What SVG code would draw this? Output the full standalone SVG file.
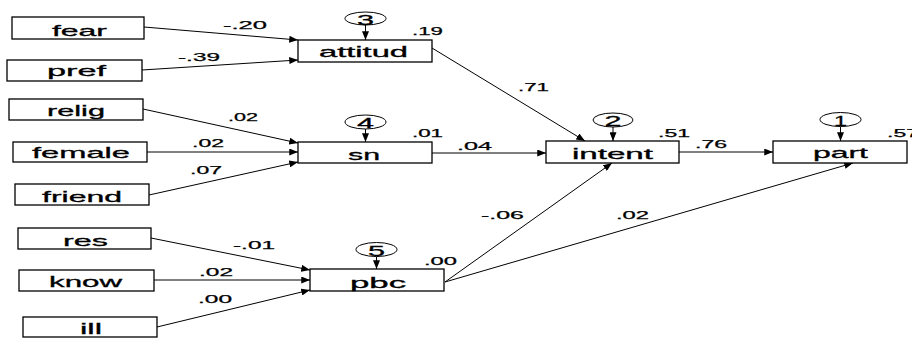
<svg xmlns="http://www.w3.org/2000/svg" width="912" height="338" viewBox="0 0 912 338">
<defs>
<marker id="ah" viewBox="0 0 10 8" refX="10" refY="4" markerUnits="userSpaceOnUse" markerWidth="9" markerHeight="7" orient="auto">
<path d="M0,0 L10,4 L0,8 z" fill="#000"/>
</marker>
</defs>
<style>
.box{fill:#fff;stroke:#000;stroke-width:1.3}
.err{fill:#fff;stroke:#000;stroke-width:1}
.lbl{font-family:"Liberation Sans",Arial,sans-serif;font-size:15px;fill:#000;stroke:#000;stroke-width:0.3}
.num{font-family:"Liberation Sans",Arial,sans-serif;font-size:11px;fill:#000;stroke:#000;stroke-width:0.25}
.dig{font-family:"Liberation Sans",Arial,sans-serif;font-size:15px;fill:#000;stroke:#000;stroke-width:0.3}
.ln{stroke:#000;stroke-width:1;fill:none;marker-end:url(#ah)}
</style>
<rect width="912" height="338" fill="#fff"/>
<g id="connectors">
<line class="ln" x1="144" y1="27" x2="298" y2="40"/>
<line class="ln" x1="142" y1="70" x2="298" y2="60"/>
<line class="ln" x1="143" y1="109" x2="298" y2="143"/>
<line class="ln" x1="147" y1="152" x2="298" y2="152"/>
<line class="ln" x1="149" y1="195" x2="298" y2="162"/>
<line class="ln" x1="151" y1="238" x2="310" y2="270"/>
<line class="ln" x1="154" y1="280" x2="310" y2="280"/>
<line class="ln" x1="157" y1="327" x2="310" y2="290"/>
<line class="ln" x1="432" y1="48" x2="585" y2="141"/>
<line class="ln" x1="432" y1="153" x2="546" y2="153"/>
<line class="ln" x1="679" y1="152" x2="773" y2="152"/>
<line class="ln" x1="445" y1="282" x2="612" y2="163"/>
<line class="ln" x1="445" y1="282" x2="853" y2="163"/>
<line class="ln" x1="365.5" y1="25" x2="365.5" y2="40"/>
<line class="ln" x1="365.5" y1="129" x2="365.5" y2="142"/>
<line class="ln" x1="613" y1="127" x2="613" y2="141"/>
<line class="ln" x1="840.5" y1="127" x2="840.5" y2="141"/>
<line class="ln" x1="376.5" y1="257" x2="376.5" y2="269"/>
<text class="num" x="223" y="29" textLength="44" lengthAdjust="spacingAndGlyphs">-.20</text>
<text class="num" x="178" y="61" textLength="42" lengthAdjust="spacingAndGlyphs">-.39</text>
<text class="num" x="228" y="121" textLength="30" lengthAdjust="spacingAndGlyphs">.02</text>
<text class="num" x="192" y="147" textLength="32" lengthAdjust="spacingAndGlyphs">.02</text>
<text class="num" x="190" y="174" textLength="32" lengthAdjust="spacingAndGlyphs">.07</text>
<text class="num" x="233" y="249" textLength="42" lengthAdjust="spacingAndGlyphs">-.01</text>
<text class="num" x="199" y="276" textLength="34" lengthAdjust="spacingAndGlyphs">.02</text>
<text class="num" x="198" y="303" textLength="34" lengthAdjust="spacingAndGlyphs">.00</text>
<text class="num" x="518" y="91" textLength="31" lengthAdjust="spacingAndGlyphs">.71</text>
<text class="num" x="457" y="150" textLength="35" lengthAdjust="spacingAndGlyphs">.04</text>
<text class="num" x="695" y="148" textLength="32" lengthAdjust="spacingAndGlyphs">.76</text>
<text class="num" x="481" y="219" textLength="43" lengthAdjust="spacingAndGlyphs">-.06</text>
<text class="num" x="616" y="219" textLength="33" lengthAdjust="spacingAndGlyphs">.02</text>
</g>
<g id="fear"><rect class="box" x="12" y="17" width="132" height="22"/><text class="lbl" x="52" y="36" textLength="55" lengthAdjust="spacingAndGlyphs">fear</text></g>
<g id="pref"><rect class="box" x="7" y="60" width="135" height="21"/><text class="lbl" x="47" y="76" textLength="59" lengthAdjust="spacingAndGlyphs">pref</text></g>
<g id="relig"><rect class="box" x="9" y="99" width="134" height="21"/><text class="lbl" x="47" y="116" textLength="58" lengthAdjust="spacingAndGlyphs">relig</text></g>
<g id="female"><rect class="box" x="13" y="142" width="134" height="20"/><text class="lbl" x="32" y="158" textLength="98" lengthAdjust="spacingAndGlyphs">female</text></g>
<g id="friend"><rect class="box" x="15" y="184" width="134" height="21"/><text class="lbl" x="42" y="202" textLength="80" lengthAdjust="spacingAndGlyphs">friend</text></g>
<g id="res"><rect class="box" x="18" y="228" width="133" height="21"/><text class="lbl" x="63" y="246" textLength="45" lengthAdjust="spacingAndGlyphs">res</text></g>
<g id="know"><rect class="box" x="19" y="270" width="135" height="21"/><text class="lbl" x="49" y="287" textLength="73" lengthAdjust="spacingAndGlyphs">know</text></g>
<g id="ill"><rect class="box" x="23" y="317" width="134" height="20"/><text class="lbl" x="80" y="334" textLength="22" lengthAdjust="spacingAndGlyphs">ill</text></g>
<g id="attitud"><rect class="box" x="298" y="40" width="134" height="22"/><text class="lbl" x="319" y="57" textLength="89" lengthAdjust="spacingAndGlyphs">attitud</text>
<text class="num" x="412" y="35" textLength="31" lengthAdjust="spacingAndGlyphs">.19</text></g>
<g id="e3"><ellipse class="err" cx="365.5" cy="18.5" rx="20.5" ry="6.5"/><text class="dig" x="357" y="24.5" textLength="17" lengthAdjust="spacingAndGlyphs">3</text></g>
<g id="sn"><rect class="box" x="298" y="142" width="134" height="21"/><text class="lbl" x="348" y="160" textLength="32" lengthAdjust="spacingAndGlyphs">sn</text>
<text class="num" x="412" y="137" textLength="31" lengthAdjust="spacingAndGlyphs">.01</text></g>
<g id="e4"><ellipse class="err" cx="365.5" cy="122" rx="20.5" ry="7"/><text class="dig" x="357" y="128" textLength="17" lengthAdjust="spacingAndGlyphs">4</text></g>
<g id="intent"><rect class="box" x="546" y="141" width="133" height="22"/><text class="lbl" x="572" y="159" textLength="81" lengthAdjust="spacingAndGlyphs">intent</text>
<text class="num" x="658" y="137" textLength="32" lengthAdjust="spacingAndGlyphs">.51</text></g>
<g id="e2"><ellipse class="err" cx="613" cy="120" rx="20" ry="7"/><text class="dig" x="604.5" y="126" textLength="17" lengthAdjust="spacingAndGlyphs">2</text></g>
<g id="part"><rect class="box" x="773" y="141" width="134" height="22"/><text class="lbl" x="813" y="158" textLength="55" lengthAdjust="spacingAndGlyphs">part</text>
<text class="num" x="887" y="137" textLength="32" lengthAdjust="spacingAndGlyphs">.57</text></g>
<g id="e1"><ellipse class="err" cx="840.5" cy="119.5" rx="20.5" ry="7"/><text class="dig" x="834" y="125.5" textLength="13" lengthAdjust="spacingAndGlyphs">1</text></g>
<g id="pbc"><rect class="box" x="310" y="269" width="134" height="22"/><text class="lbl" x="350" y="288" textLength="56" lengthAdjust="spacingAndGlyphs">pbc</text>
<text class="num" x="424" y="265" textLength="33" lengthAdjust="spacingAndGlyphs">.00</text></g>
<g id="e5"><ellipse class="err" cx="376.5" cy="249.5" rx="20.5" ry="7"/><text class="dig" x="368" y="255.5" textLength="17" lengthAdjust="spacingAndGlyphs">5</text></g>
</svg>
